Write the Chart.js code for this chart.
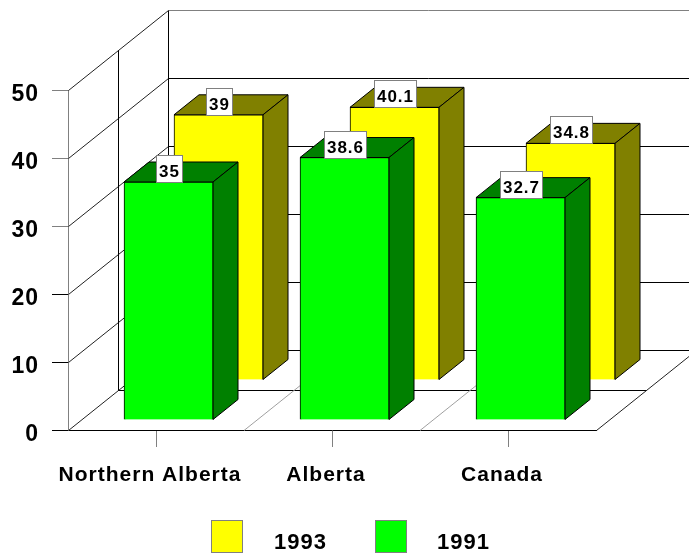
<!DOCTYPE html>
<html>
<head>
<meta charset="utf-8">
<style>html,body{margin:0;padding:0;background:#fff}canvas{display:block}</style>
<script src="https://cdn.jsdelivr.net/npm/chart.js@4"></script>
</head>
<body>
<canvas id="c" width="689" height="553"></canvas>
<script>
const categories = ["Northern Alberta", "Alberta", "Canada"];
const values1993 = [39, 40.1, 34.8];
const values1991 = [35, 38.6, 32.7];
const yTicks = [0, 10, 20, 30, 40, 50];

const FONT = '"Liberation Sans", Arial, sans-serif';
const WALL = {dx: 100, dy: -80};
const MID = {dx: 50, dy: -40};
const BAR_DEPTH = {dx: 25, dy: -20};
const OFFSETS = {"1991": {dx: 12.5, dy: -10}, "1993": {dx: 62.5, dy: -50}};
const COLORS = {
  "1991": {front: "#00ff00", shade: "#008000"},
  "1993": {front: "#ffff00", shade: "#808000"}
};
const LEGEND_ITEMS = [
  {label: "1993", boxX: 211, textX: 274},
  {label: "1991", boxX: 375, textX: 437}
];

function line(ctx, x1, y1, x2, y2, color, w) {
  ctx.beginPath();
  ctx.strokeStyle = color;
  ctx.lineWidth = w || 1;
  ctx.moveTo(x1, y1);
  ctx.lineTo(x2, y2);
  ctx.stroke();
}
function poly(ctx, pts, fill) {
  ctx.beginPath();
  pts.forEach((p, i) => i ? ctx.lineTo(p[0], p[1]) : ctx.moveTo(p[0], p[1]));
  ctx.closePath();
  ctx.fillStyle = fill;
  ctx.fill();
  ctx.strokeStyle = "#000";
  ctx.lineWidth = 1;
  ctx.stroke();
}

const box3d = {
  id: "box3d",
  beforeDraw(chart) {
    chart.ctx.letterSpacing = "1px";
  },
  beforeDatasetsDraw(chart) {
    const ctx = chart.ctx, x = chart.scales.x, y = chart.scales.y;
    const left = x.left + 0.5, right = x.right + 0.5;
    const y0 = Math.round(y.getPixelForValue(0)) + 0.5;
    ctx.save();
    yTicks.forEach(v => {
      const py = Math.round(y.getPixelForValue(v)) + 0.5;
      line(ctx, left, py, left + WALL.dx, py + WALL.dy, "#222");
      line(ctx, left + WALL.dx, py + WALL.dy, chart.width, py + WALL.dy, v === 50 ? "#808080" : "#000");
    });
    const yTop = Math.round(y.getPixelForValue(50)) + 0.5;
    line(ctx, left + WALL.dx, yTop + WALL.dy, left + WALL.dx, y0 + WALL.dy, "#000");
    line(ctx, left + MID.dx, yTop + MID.dy, left + MID.dx, y0 + MID.dy, "#000");
    line(ctx, left + MID.dx, y0 + MID.dy, right + MID.dx, y0 + MID.dy, "#000");
    line(ctx, right, y0, right + WALL.dx, y0 + WALL.dy, "#222");
    const step = x.getPixelForValue(1) - x.getPixelForValue(0);
    [0, 1].forEach(i => {
      const sx = x.getPixelForValue(i) + step / 2;
      line(ctx, sx, y0, sx + WALL.dx, y0 + WALL.dy, "#a0a0a0");
    });
    ctx.restore();
  },
  beforeDatasetDraw(chart, args) {
    const ctx = chart.ctx, ds = chart.data.datasets[args.index];
    const off = OFFSETS[ds.label], d = BAR_DEPTH;
    ctx.save();
    ctx.translate(off.dx, off.dy);
    args.meta.data.forEach(b => {
      const l = b.x - b.width / 2, r = b.x + b.width / 2, t = b.y, base = b.base;
      poly(ctx, [[l, t], [r, t], [r + d.dx, t + d.dy], [l + d.dx, t + d.dy]], COLORS[ds.label].shade);
      poly(ctx, [[r, t], [r + d.dx, t + d.dy], [r + d.dx, base + d.dy], [r, base]], COLORS[ds.label].shade);
    });
  },
  afterDatasetDraw(chart) {
    chart.ctx.restore();
  },
  afterDatasetsDraw(chart) {
    const ctx = chart.ctx;
    ctx.save();
    chart.data.datasets.forEach((ds, i) => {
      const off = OFFSETS[ds.label];
      chart.getDatasetMeta(i).data.forEach((b, j) => {
        const txt = String(ds.data[j]);
        ctx.font = "bold 17px " + FONT;
        const w = Math.round(ctx.measureText(txt).width) + 5;
        const h = 27;
        const cx = b.x + off.dx, bottom = b.y + off.dy;
        const bx = Math.round(cx - w / 2) + 0.5, by = Math.round(bottom - h) + 0.5;
        ctx.fillStyle = "#fff";
        ctx.fillRect(bx, by, w, h);
        ctx.strokeStyle = "#808080";
        ctx.lineWidth = 1;
        ctx.strokeRect(bx, by, w, h);
        ctx.fillStyle = "#000";
        ctx.textAlign = "center";
        ctx.textBaseline = "alphabetic";
        ctx.fillText(txt, bx + w / 2, by + 21.5);
      });
    });
    ctx.font = "bold 22px " + FONT;
    LEGEND_ITEMS.forEach(it => {
      const ds = chart.data.datasets.find(d => d.label === it.label);
      ctx.fillStyle = ds.backgroundColor;
      ctx.fillRect(it.boxX + 0.5, 520.5, 31, 32);
      ctx.strokeStyle = "#808080";
      ctx.lineWidth = 1;
      ctx.strokeRect(it.boxX + 0.5, 520.5, 31, 32);
      ctx.fillStyle = "#000";
      ctx.textAlign = "left";
      ctx.textBaseline = "alphabetic";
      ctx.fillText(it.label, it.textX, 549);
    });
    ctx.restore();
  }
};

new Chart(document.getElementById("c"), {
  type: "bar",
  data: {
    labels: categories,
    datasets: [
      {label: "1993", data: values1993, order: 1, backgroundColor: COLORS["1993"].front, borderColor: "#000", borderWidth: 1, clip: false},
      {label: "1991", data: values1991, order: 0, backgroundColor: COLORS["1991"].front, borderColor: "#000", borderWidth: 1, clip: false}
    ]
  },
  options: {
    responsive: false,
    animation: false,
    events: [],
    grouped: false,
    barThickness: 89,
    layout: {padding: {left: 0, top: 90, right: 93, bottom: 0}},
    plugins: {legend: {display: false}, tooltip: {enabled: false}, title: {display: false}},
    scales: {
      x: {
        type: "category",
        offset: true,
        afterFit(s) { s.height = 123; },
        border: {display: true, color: "#000", width: 1},
        grid: {display: true, offset: false, drawOnChartArea: false, drawTicks: true, tickLength: 17, color: "#808080", tickWidth: 1},
        ticks: {color: "#000", font: {family: FONT, size: 21, weight: "bold"}, padding: 16, labelOffset: -6, maxRotation: 0, autoSkip: false}
      },
      y: {
        min: 0,
        max: 50,
        afterFit(s) { s.width = 68; },
        border: {display: true, color: "#808080", width: 1},
        grid: {display: true, drawOnChartArea: false, drawTicks: true, tickLength: 16, tickWidth: 1,
               color: c => (c.tick && c.tick.value >= 30 ? "#808080" : "#000")},
        afterBuildTicks(s) { s.ticks = yTicks.map(v => ({value: v})); },
        ticks: {color: "#000", font: {family: FONT, size: 23, weight: "bold"}, padding: 13, labelOffset: 5}
      }
    }
  },
  plugins: [box3d]
});
</script>
</body>
</html>
